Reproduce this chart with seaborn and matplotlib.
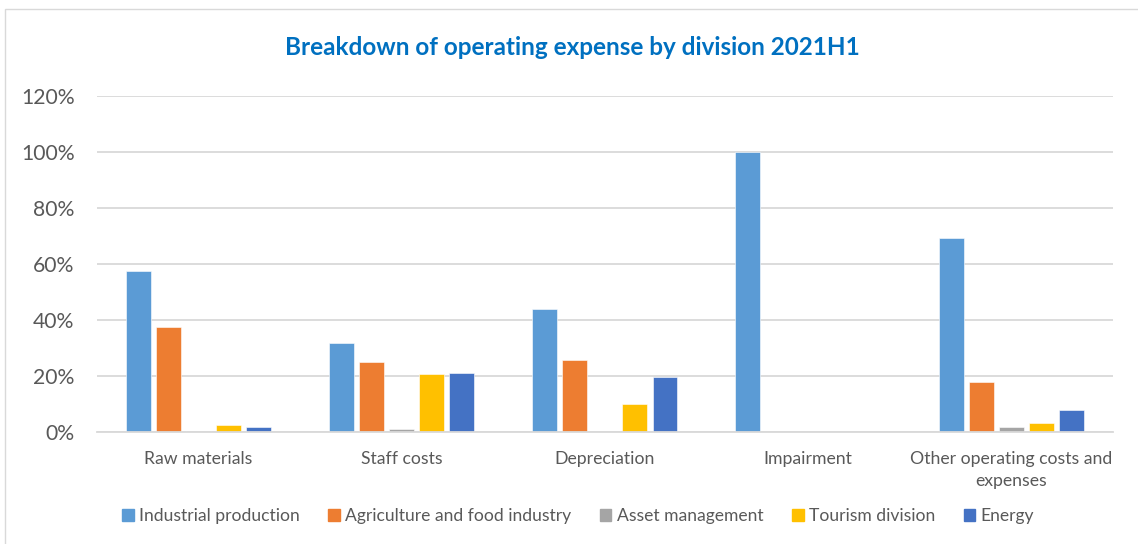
import matplotlib
matplotlib.use("Agg")
import matplotlib.pyplot as plt
import matplotlib.patches as mpatches
import seaborn as sns
import pandas as pd
from matplotlib.ticker import PercentFormatter

categories = ["Raw materials", "Staff costs", "Depreciation", "Impairment",
              "Other operating costs and\nexpenses"]
divisions = ["Industrial production", "Agriculture and food industry",
             "Asset management", "Tourism division", "Energy"]

industrial = [57.5, 31.8, 43.9, 100.0, 69.3]
agriculture = [37.4, 25.1, 25.8, 0.0, 17.8]
asset_mgmt = [0.3, 1.0, 0.0, 0.0, 1.7]
tourism = [2.5, 20.7, 10.0, 0.0, 3.2]
energy = [1.8, 21.0, 19.6, 0.0, 7.8]

colors = ["#5B9BD5", "#ED7D31", "#A5A5A5", "#FFC000", "#4472C4"]

series = [industrial, agriculture, asset_mgmt, tourism, energy]
rows = []
for div, vals in zip(divisions, series):
    for cat, v in zip(categories, vals):
        rows.append({"category": cat, "division": div, "share": v / 100.0})
df = pd.DataFrame(rows)

sns.set_theme(style="white")
plt.rcParams["font.family"] = ["Lato", "DejaVu Sans"]

fig = plt.figure(figsize=(11.38, 5.44), dpi=100)
ax = fig.add_axes([0.085, 0.206, 0.893, 0.6175])

sns.barplot(data=df, x="category", y="share", hue="division",
            order=categories, hue_order=divisions, palette=colors,
            saturation=1, width=0.74, gap=0.17, errorbar=None, legend=False,
            ax=ax, edgecolor="white", linewidth=0.4)

ax.set_ylim(0, 1.2)
ax.set_yticks([0, 0.2, 0.4, 0.6, 0.8, 1.0, 1.2])
ax.yaxis.set_major_formatter(PercentFormatter(1.0, decimals=0))
ax.grid(axis="y", color="#D9D9D9", linewidth=1.3)
ax.set_axisbelow(True)
for s in ["top", "right", "left"]:
    ax.spines[s].set_visible(False)
ax.spines["bottom"].set_color("#D9D9D9")
ax.spines["bottom"].set_linewidth(1.3)
ax.set_xlabel("")
ax.set_ylabel("")
ax.tick_params(axis="y", labelsize=15.2, labelcolor="#595959", length=0, pad=16)
ax.tick_params(axis="x", labelsize=12.7, labelcolor="#595959", length=0, pad=14)
for lbl in ax.get_xticklabels():
    lbl.set_linespacing(1.45)
ax.set_xlim(-0.5, 4.5)

fig.text(0.503, 0.912, "Breakdown of operating expense by division 2021H1",
         ha="center", va="center", fontsize=17.5, fontweight="bold",
         color="#0070C0")

handles = [mpatches.Patch(color=c, label=d) for c, d in zip(colors, divisions)]
leg = fig.legend(handles=handles, loc="center", bbox_to_anchor=(0.508, 0.051),
                 ncol=5, frameon=False, fontsize=12.6, handlelength=0.65,
                 handleheight=0.65, handletextpad=0.3, columnspacing=1.65)
for t in leg.get_texts():
    t.set_color("#595959")

# chart frame
fig.patches.append(mpatches.Rectangle((0.004, -0.01), 1.1, 0.993,
                                      transform=fig.transFigure, fill=False,
                                      edgecolor="#D9D9D9", linewidth=1.0))

fig.savefig("out.png", dpi=100, facecolor="white")
